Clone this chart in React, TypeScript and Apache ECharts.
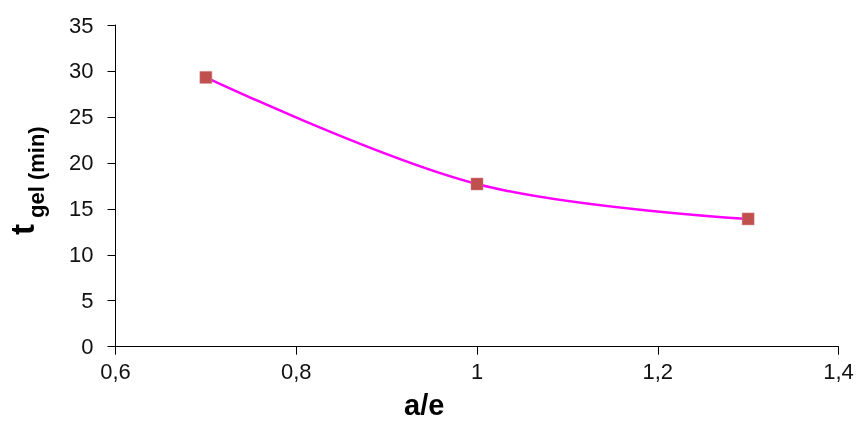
import React, { useEffect, useRef } from "react";
import * as echarts from "echarts";

const xValues = [0.7, 1.0, 1.3];
const yValues = [29.3, 17.7, 13.9];
const xAxisName = "a/e";
const yAxisMain = "t";
const yAxisSub = "gel (min)";

export default function App() {
  const ref = useRef<HTMLDivElement>(null);
  useEffect(() => {
    const chart = echarts.init(ref.current!, null, { renderer: "svg" });
    const font = "'Liberation Sans', Arial, sans-serif";
    const fmt = (v: number) => String(+v.toFixed(1)).replace(".", ",");
    chart.setOption({
      animation: false,
      grid: { left: 115.5, right: 20.5, top: 25, bottom: 74.3 },
      xAxis: {
        type: "value",
        min: 0.6,
        max: 1.4,
        interval: 0.2,
        axisLine: { lineStyle: { color: "#000", width: 1 } },
        axisTick: { show: true, inside: false, length: 8, lineStyle: { color: "#000" } },
        axisLabel: { color: "#111", fontSize: 22, fontFamily: font, margin: 14, formatter: fmt },
        splitLine: { show: false },
      },
      yAxis: {
        type: "value",
        min: 0,
        max: 35,
        interval: 5,
        axisLine: { show: true, lineStyle: { color: "#000", width: 1 } },
        axisTick: { show: true, inside: false, length: 8, lineStyle: { color: "#000" } },
        axisLabel: { color: "#111", fontSize: 22, fontFamily: font, margin: 22 },
        splitLine: { show: false },
      },
      series: [
        {
          type: "line",
          data: xValues.map((x, i) => [x, yValues[i]]),
          smooth: 0.35,
          lineStyle: { color: "#FF00FF", width: 2.5 },
          symbol: "rect",
          symbolSize: 12,
          itemStyle: { color: "#C0504D", borderColor: "#D08080", borderWidth: 0.5 },
        },
      ],
      graphic: [
        {
          type: "text",
          left: 404,
          top: 390,
          style: { text: xAxisName, font: `bold 29px ${font}`, fill: "#000" },
        },
        {
          type: "group",
          x: 22,
          y: 235,
          rotation: Math.PI / 2,
          children: [
            {
              type: "text",
              x: 0,
              y: 0,
              style: { text: yAxisMain, font: `bold 33px ${font}`, fill: "#000", verticalAlign: "middle", align: "left" },
            },
            {
              type: "text",
              x: 17,
              y: 14,
              style: { text: yAxisSub, font: `bold 22px ${font}`, fill: "#000", verticalAlign: "middle", align: "left" },
            },
          ],
        },
      ],
    });
    return () => chart.dispose();
  }, []);
  return <div ref={ref} style={{ position: "fixed", left: 0, top: 0, width: 859, height: 421 }} />;
}
